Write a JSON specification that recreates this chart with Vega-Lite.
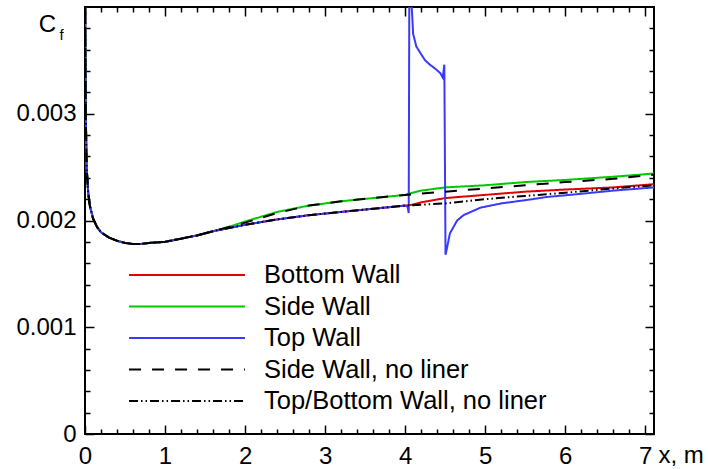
{
  "$schema": "https://vega.github.io/schema/vega-lite/v6.json",
  "width": 569,
  "height": 427,
  "autosize": {"type": "none"},
  "padding": {"left": 85, "top": 7, "right": 54, "bottom": 35},
  "background": "white",
  "config": {
    "view": {"stroke": "#000", "strokeWidth": 2},
    "font": "Liberation Sans",
    "axis": {"domain": false, "grid": false, "tickColor": "#000", "tickWidth": 1.5, "labelColor": "#000", "titleColor": "#000", "labelFont": "Liberation Sans", "titleFont": "Liberation Sans", "labelFontSize": 24, "titleFontWeight": "normal", "labelFlush": false, "labelOverlap": false},
    "legend": {"title": null, "orient": "none", "legendX": 87, "legendY": 253, "symbolType": "M-4.14,0H4.14", "symbolSize": 784, "symbolStrokeWidth": 2, "symbolFillColor": "transparent", "labelFontSize": 25.5, "labelFont": "Liberation Sans", "labelColor": "#000", "labelOffset": 62, "rowPadding": 2.5, "labelLimit": 400}
  },
  "datasets": {
    "cf": [
      {"x": 0, "cf": 0.0046, "s": "Bottom Wall"}, {"x": 0.005, "cf": 0.0036, "s": "Bottom Wall"}, {"x": 0.01, "cf": 0.003, "s": "Bottom Wall"}, {"x": 0.02, "cf": 0.0025, "s": "Bottom Wall"}, {"x": 0.04, "cf": 0.00226, "s": "Bottom Wall"}, {"x": 0.06, "cf": 0.00214, "s": "Bottom Wall"}, {"x": 0.1, "cf": 0.00202, "s": "Bottom Wall"}, {"x": 0.15, "cf": 0.00194, "s": "Bottom Wall"}, {"x": 0.2, "cf": 0.00189, "s": "Bottom Wall"}, {"x": 0.3, "cf": 0.00184, "s": "Bottom Wall"}, {"x": 0.4, "cf": 0.00181, "s": "Bottom Wall"}, {"x": 0.5, "cf": 0.00179, "s": "Bottom Wall"}, {"x": 0.6, "cf": 0.00178, "s": "Bottom Wall"}, {"x": 0.7, "cf": 0.00178, "s": "Bottom Wall"}, {"x": 0.8, "cf": 0.00179, "s": "Bottom Wall"}, {"x": 1.0, "cf": 0.0018, "s": "Bottom Wall"}, {"x": 1.2, "cf": 0.00183, "s": "Bottom Wall"}, {"x": 1.4, "cf": 0.00186, "s": "Bottom Wall"}, {"x": 1.6, "cf": 0.0019, "s": "Bottom Wall"}, {"x": 1.8, "cf": 0.00193, "s": "Bottom Wall"},
      {"x": 2.0, "cf": 0.00196, "s": "Bottom Wall"}, {"x": 2.4, "cf": 0.00201, "s": "Bottom Wall"}, {"x": 2.8, "cf": 0.00205, "s": "Bottom Wall"}, {"x": 3.2, "cf": 0.00208, "s": "Bottom Wall"}, {"x": 3.6, "cf": 0.00211, "s": "Bottom Wall"}, {"x": 4.0, "cf": 0.00214, "s": "Bottom Wall"},
      {"x": 4.04, "cf": 0.00214, "s": "Bottom Wall"}, {"x": 4.2, "cf": 0.00217, "s": "Bottom Wall"}, {"x": 4.5, "cf": 0.00221, "s": "Bottom Wall"}, {"x": 5.0, "cf": 0.00224, "s": "Bottom Wall"}, {"x": 5.5, "cf": 0.00227, "s": "Bottom Wall"}, {"x": 6.0, "cf": 0.00229, "s": "Bottom Wall"}, {"x": 6.6, "cf": 0.00231, "s": "Bottom Wall"}, {"x": 7.11, "cf": 0.00234, "s": "Bottom Wall"},

      {"x": 0, "cf": 0.0046, "s": "Side Wall"}, {"x": 0.005, "cf": 0.0036, "s": "Side Wall"}, {"x": 0.01, "cf": 0.003, "s": "Side Wall"}, {"x": 0.02, "cf": 0.0025, "s": "Side Wall"}, {"x": 0.04, "cf": 0.00226, "s": "Side Wall"}, {"x": 0.06, "cf": 0.00214, "s": "Side Wall"}, {"x": 0.1, "cf": 0.00202, "s": "Side Wall"}, {"x": 0.15, "cf": 0.00194, "s": "Side Wall"}, {"x": 0.2, "cf": 0.00189, "s": "Side Wall"}, {"x": 0.3, "cf": 0.00184, "s": "Side Wall"}, {"x": 0.4, "cf": 0.00181, "s": "Side Wall"}, {"x": 0.5, "cf": 0.00179, "s": "Side Wall"}, {"x": 0.6, "cf": 0.00178, "s": "Side Wall"}, {"x": 0.7, "cf": 0.00178, "s": "Side Wall"}, {"x": 0.8, "cf": 0.00179, "s": "Side Wall"}, {"x": 1.0, "cf": 0.0018, "s": "Side Wall"}, {"x": 1.2, "cf": 0.00183, "s": "Side Wall"}, {"x": 1.4, "cf": 0.00186, "s": "Side Wall"}, {"x": 1.6, "cf": 0.0019, "s": "Side Wall"}, {"x": 1.8, "cf": 0.00194, "s": "Side Wall"},
      {"x": 2.0, "cf": 0.00199, "s": "Side Wall"}, {"x": 2.4, "cf": 0.00208, "s": "Side Wall"}, {"x": 2.8, "cf": 0.00214, "s": "Side Wall"}, {"x": 3.2, "cf": 0.00218, "s": "Side Wall"}, {"x": 3.6, "cf": 0.00221, "s": "Side Wall"}, {"x": 4.0, "cf": 0.00224, "s": "Side Wall"},
      {"x": 4.04, "cf": 0.00225, "s": "Side Wall"}, {"x": 4.2, "cf": 0.00228, "s": "Side Wall"}, {"x": 4.5, "cf": 0.00231, "s": "Side Wall"}, {"x": 5.0, "cf": 0.00233, "s": "Side Wall"}, {"x": 5.5, "cf": 0.00236, "s": "Side Wall"}, {"x": 6.0, "cf": 0.00238, "s": "Side Wall"}, {"x": 6.6, "cf": 0.00241, "s": "Side Wall"}, {"x": 7.11, "cf": 0.00244, "s": "Side Wall"},

      {"x": 0, "cf": 0.0046, "s": "Top Wall"}, {"x": 0.005, "cf": 0.0036, "s": "Top Wall"}, {"x": 0.01, "cf": 0.003, "s": "Top Wall"}, {"x": 0.02, "cf": 0.0025, "s": "Top Wall"}, {"x": 0.04, "cf": 0.00226, "s": "Top Wall"}, {"x": 0.06, "cf": 0.00214, "s": "Top Wall"}, {"x": 0.1, "cf": 0.00202, "s": "Top Wall"}, {"x": 0.15, "cf": 0.00194, "s": "Top Wall"}, {"x": 0.2, "cf": 0.00189, "s": "Top Wall"}, {"x": 0.3, "cf": 0.00184, "s": "Top Wall"}, {"x": 0.4, "cf": 0.00181, "s": "Top Wall"}, {"x": 0.5, "cf": 0.00179, "s": "Top Wall"}, {"x": 0.6, "cf": 0.00178, "s": "Top Wall"}, {"x": 0.7, "cf": 0.00178, "s": "Top Wall"}, {"x": 0.8, "cf": 0.00179, "s": "Top Wall"}, {"x": 1.0, "cf": 0.0018, "s": "Top Wall"}, {"x": 1.2, "cf": 0.00183, "s": "Top Wall"}, {"x": 1.4, "cf": 0.00186, "s": "Top Wall"}, {"x": 1.6, "cf": 0.0019, "s": "Top Wall"}, {"x": 1.8, "cf": 0.00193, "s": "Top Wall"},
      {"x": 2.0, "cf": 0.00196, "s": "Top Wall"}, {"x": 2.4, "cf": 0.00201, "s": "Top Wall"}, {"x": 2.8, "cf": 0.00205, "s": "Top Wall"}, {"x": 3.2, "cf": 0.00208, "s": "Top Wall"}, {"x": 3.6, "cf": 0.00211, "s": "Top Wall"}, {"x": 4.0, "cf": 0.00214, "s": "Top Wall"},
      {"x": 4.03, "cf": 0.00213, "s": "Top Wall"}, {"x": 4.045, "cf": 0.00207, "s": "Top Wall"}, {"x": 4.055, "cf": 0.0048, "s": "Top Wall"}, {"x": 4.075, "cf": 0.0041, "s": "Top Wall"}, {"x": 4.09, "cf": 0.0039, "s": "Top Wall"}, {"x": 4.1, "cf": 0.00375, "s": "Top Wall"}, {"x": 4.14, "cf": 0.00363, "s": "Top Wall"}, {"x": 4.19, "cf": 0.00357, "s": "Top Wall"}, {"x": 4.25, "cf": 0.0035, "s": "Top Wall"}, {"x": 4.31, "cf": 0.00346, "s": "Top Wall"}, {"x": 4.38, "cf": 0.00342, "s": "Top Wall"}, {"x": 4.44, "cf": 0.00338, "s": "Top Wall"}, {"x": 4.47, "cf": 0.00334, "s": "Top Wall"}, {"x": 4.49, "cf": 0.00346, "s": "Top Wall"}, {"x": 4.505, "cf": 0.00168, "s": "Top Wall"}, {"x": 4.52, "cf": 0.00173, "s": "Top Wall"}, {"x": 4.56, "cf": 0.00188, "s": "Top Wall"}, {"x": 4.65, "cf": 0.002, "s": "Top Wall"}, {"x": 4.73, "cf": 0.00205, "s": "Top Wall"}, {"x": 4.94, "cf": 0.00212, "s": "Top Wall"}, {"x": 5.2, "cf": 0.00216, "s": "Top Wall"}, {"x": 5.5, "cf": 0.00219, "s": "Top Wall"}, {"x": 5.77, "cf": 0.00222, "s": "Top Wall"}, {"x": 6.2, "cf": 0.00225, "s": "Top Wall"}, {"x": 6.6, "cf": 0.00228, "s": "Top Wall"}, {"x": 7.11, "cf": 0.00231, "s": "Top Wall"},

      {"x": 0, "cf": 0.0046, "s": "Side Wall, no liner"}, {"x": 0.005, "cf": 0.0036, "s": "Side Wall, no liner"}, {"x": 0.01, "cf": 0.003, "s": "Side Wall, no liner"}, {"x": 0.02, "cf": 0.0025, "s": "Side Wall, no liner"}, {"x": 0.04, "cf": 0.00226, "s": "Side Wall, no liner"}, {"x": 0.06, "cf": 0.00214, "s": "Side Wall, no liner"}, {"x": 0.1, "cf": 0.00202, "s": "Side Wall, no liner"}, {"x": 0.15, "cf": 0.00194, "s": "Side Wall, no liner"}, {"x": 0.2, "cf": 0.00189, "s": "Side Wall, no liner"}, {"x": 0.3, "cf": 0.00184, "s": "Side Wall, no liner"}, {"x": 0.4, "cf": 0.00181, "s": "Side Wall, no liner"}, {"x": 0.5, "cf": 0.00179, "s": "Side Wall, no liner"}, {"x": 0.6, "cf": 0.00178, "s": "Side Wall, no liner"}, {"x": 0.7, "cf": 0.00178, "s": "Side Wall, no liner"}, {"x": 0.8, "cf": 0.00179, "s": "Side Wall, no liner"}, {"x": 1.0, "cf": 0.0018, "s": "Side Wall, no liner"}, {"x": 1.2, "cf": 0.00183, "s": "Side Wall, no liner"}, {"x": 1.4, "cf": 0.00186, "s": "Side Wall, no liner"}, {"x": 1.6, "cf": 0.0019, "s": "Side Wall, no liner"}, {"x": 1.8, "cf": 0.00194, "s": "Side Wall, no liner"},
      {"x": 2.0, "cf": 0.00198, "s": "Side Wall, no liner"}, {"x": 2.4, "cf": 0.00207, "s": "Side Wall, no liner"}, {"x": 2.8, "cf": 0.00214, "s": "Side Wall, no liner"}, {"x": 3.2, "cf": 0.00218, "s": "Side Wall, no liner"}, {"x": 3.6, "cf": 0.00221, "s": "Side Wall, no liner"}, {"x": 4.0, "cf": 0.00224, "s": "Side Wall, no liner"},
      {"x": 4.5, "cf": 0.00227, "s": "Side Wall, no liner"}, {"x": 5.0, "cf": 0.0023, "s": "Side Wall, no liner"}, {"x": 5.5, "cf": 0.00233, "s": "Side Wall, no liner"}, {"x": 6.0, "cf": 0.00236, "s": "Side Wall, no liner"}, {"x": 6.6, "cf": 0.00239, "s": "Side Wall, no liner"}, {"x": 7.11, "cf": 0.00243, "s": "Side Wall, no liner"},

      {"x": 0, "cf": 0.0046, "s": "Top/Bottom Wall, no liner"}, {"x": 0.005, "cf": 0.0036, "s": "Top/Bottom Wall, no liner"}, {"x": 0.01, "cf": 0.003, "s": "Top/Bottom Wall, no liner"}, {"x": 0.02, "cf": 0.0025, "s": "Top/Bottom Wall, no liner"}, {"x": 0.04, "cf": 0.00226, "s": "Top/Bottom Wall, no liner"}, {"x": 0.06, "cf": 0.00214, "s": "Top/Bottom Wall, no liner"}, {"x": 0.1, "cf": 0.00202, "s": "Top/Bottom Wall, no liner"}, {"x": 0.15, "cf": 0.00194, "s": "Top/Bottom Wall, no liner"}, {"x": 0.2, "cf": 0.00189, "s": "Top/Bottom Wall, no liner"}, {"x": 0.3, "cf": 0.00184, "s": "Top/Bottom Wall, no liner"}, {"x": 0.4, "cf": 0.00181, "s": "Top/Bottom Wall, no liner"}, {"x": 0.5, "cf": 0.00179, "s": "Top/Bottom Wall, no liner"}, {"x": 0.6, "cf": 0.00178, "s": "Top/Bottom Wall, no liner"}, {"x": 0.7, "cf": 0.00178, "s": "Top/Bottom Wall, no liner"}, {"x": 0.8, "cf": 0.00179, "s": "Top/Bottom Wall, no liner"}, {"x": 1.0, "cf": 0.0018, "s": "Top/Bottom Wall, no liner"}, {"x": 1.2, "cf": 0.00183, "s": "Top/Bottom Wall, no liner"}, {"x": 1.4, "cf": 0.00186, "s": "Top/Bottom Wall, no liner"}, {"x": 1.6, "cf": 0.0019, "s": "Top/Bottom Wall, no liner"}, {"x": 1.8, "cf": 0.00193, "s": "Top/Bottom Wall, no liner"},
      {"x": 2.0, "cf": 0.00196, "s": "Top/Bottom Wall, no liner"}, {"x": 2.4, "cf": 0.00201, "s": "Top/Bottom Wall, no liner"}, {"x": 2.8, "cf": 0.00205, "s": "Top/Bottom Wall, no liner"}, {"x": 3.2, "cf": 0.00208, "s": "Top/Bottom Wall, no liner"}, {"x": 3.6, "cf": 0.00211, "s": "Top/Bottom Wall, no liner"}, {"x": 4.0, "cf": 0.00214, "s": "Top/Bottom Wall, no liner"},
      {"x": 4.5, "cf": 0.00216, "s": "Top/Bottom Wall, no liner"}, {"x": 5.0, "cf": 0.0022, "s": "Top/Bottom Wall, no liner"}, {"x": 5.5, "cf": 0.00223, "s": "Top/Bottom Wall, no liner"}, {"x": 6.0, "cf": 0.00226, "s": "Top/Bottom Wall, no liner"}, {"x": 6.6, "cf": 0.0023, "s": "Top/Bottom Wall, no liner"}, {"x": 7.11, "cf": 0.00233, "s": "Top/Bottom Wall, no liner"}
    ]
  },
  "data": {"name": "cf"},
  "resolve": {"axis": {"x": "independent", "y": "independent"}},
  "layer": [
    {
      "mark": {"type": "line", "clip": true, "strokeWidth": 2, "interpolate": "linear"},
      "encoding": {
        "x": {"field": "x", "type": "quantitative",
          "scale": {"domain": [0, 7.11], "nice": false, "zero": false},
          "axis": {"orient": "bottom",
            "values": [0,0.2,0.4,0.6,0.8,1,1.2,1.4,1.6,1.8,2,2.2,2.4,2.6,2.8,3,3.2,3.4,3.6,3.8,4,4.2,4.4,4.6,4.8,5,5.2,5.4,5.6,5.8,6,6.2,6.4,6.6,6.8,7],
            "labelExpr": "abs(datum.value - round(datum.value)) < 0.01 ? format(round(datum.value), 'd') : ''",
            "tickSize": {"condition": {"test": "abs(datum.value - round(datum.value)) < 0.01", "value": -9}, "value": -5},
            "labelPadding": 19,
            "title": "x, m", "titleFontSize": 24, "titleAlign": "left", "titleBaseline": "alphabetic", "titleAnchor": "start", "titleX": 573, "titleY": 28}},
        "y": {"field": "cf", "type": "quantitative",
          "scale": {"domain": [0, 0.004], "nice": false},
          "axis": {"orient": "left",
            "values": [0,0.0002,0.0004,0.0006,0.0008,0.001,0.0012,0.0014,0.0016,0.0018,0.002,0.0022,0.0024,0.0026,0.0028,0.003,0.0032,0.0034,0.0036,0.0038],
            "labelExpr": "abs(datum.value*1000 - round(datum.value*1000)) < 0.01 ? (datum.value == 0 ? '0' : format(datum.value, '.3f')) : ''",
            "tickSize": {"condition": {"test": "abs(datum.value*1000 - round(datum.value*1000)) < 0.01", "value": -9}, "value": -5},
            "labelPadding": 18,
            "title": "C", "titleFontSize": 24, "titleAngle": 0, "titleAlign": "center", "titleBaseline": "alphabetic", "titleX": -38, "titleY": 24}},
        "color": {"field": "s", "type": "nominal",
          "scale": {"domain": ["Bottom Wall", "Side Wall", "Top Wall", "Side Wall, no liner", "Top/Bottom Wall, no liner"],
                    "range": ["#e00000", "#00c800", "#3a3aff", "#000000", "#000000"]}},
        "strokeDash": {"field": "s", "type": "nominal",
          "scale": {"domain": ["Bottom Wall", "Side Wall", "Top Wall", "Side Wall, no liner", "Top/Bottom Wall, no liner"],
                    "range": [[1, 0], [1, 0], [1, 0], [12, 11], [9, 3, 1.5, 3, 1.5, 3]]}}
      }
    },
    {
      "mark": {"type": "line", "opacity": 0},
      "encoding": {
        "x": {"field": "x", "type": "quantitative",
          "axis": {"orient": "top", "labels": false, "title": null,
            "values": [0,0.2,0.4,0.6,0.8,1,1.2,1.4,1.6,1.8,2,2.2,2.4,2.6,2.8,3,3.2,3.4,3.6,3.8,4,4.2,4.4,4.6,4.8,5,5.2,5.4,5.6,5.8,6,6.2,6.4,6.6,6.8,7],
            "tickSize": {"condition": {"test": "abs(datum.value - round(datum.value)) < 0.01", "value": -9}, "value": -5}}},
        "y": {"field": "cf", "type": "quantitative",
          "axis": {"orient": "right", "labels": false,
            "values": [0,0.0002,0.0004,0.0006,0.0008,0.001,0.0012,0.0014,0.0016,0.0018,0.002,0.0022,0.0024,0.0026,0.0028,0.003,0.0032,0.0034,0.0036,0.0038],
            "tickSize": {"condition": {"test": "abs(datum.value*1000 - round(datum.value*1000)) < 0.01", "value": -9}, "value": -5},
            "title": "f", "titleFontSize": 15, "titleAngle": 0, "titleAlign": "left", "titleBaseline": "alphabetic", "titleX": -595, "titleY": 32}},
        "detail": {"field": "s"}
      }
    }
  ]
}
